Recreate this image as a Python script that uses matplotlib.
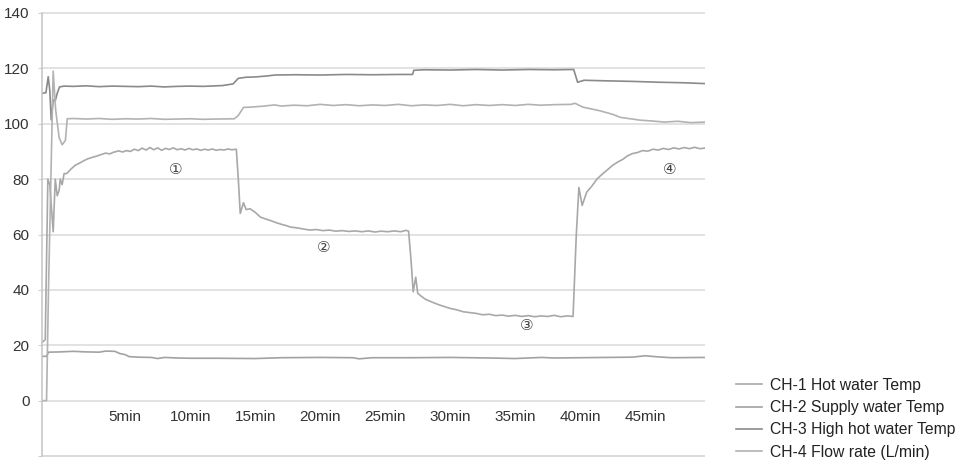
import matplotlib
matplotlib.use("Agg")
import matplotlib.pyplot as plt

# ---------------- data: (minute, value) ----------------
ch1_points = [
    (-1.4, 21), (-1.15, 22), (-0.95, 80), (-0.8, 78), (-0.54, 61), (-0.38, 80), (-0.23, 74),
    (-0.08, 76), (0.0, 80), (0.15, 78), (0.3, 82), (0.5, 82), (0.8, 83.5), (1.15, 85),
    (1.5, 85.8), (1.8, 86.6), (2.1, 87.3), (2.5, 87.9), (2.8, 88.3), (3.1, 88.8), (3.5, 89.4),
    (3.8, 89.1), (4.1, 89.7), (4.5, 90.2), (4.8, 89.8), (5.1, 90.3), (5.4, 90.0), (5.7, 90.8),
    (6.0, 90.3), (6.3, 91.2), (6.6, 90.5), (6.9, 91.4), (7.2, 90.6), (7.5, 91.3), (7.8, 90.4),
    (8.1, 91.1), (8.4, 90.7), (8.7, 91.3), (9.0, 90.6), (9.3, 91.0), (9.6, 90.5), (9.9, 91.1),
    (10.2, 90.6), (10.5, 90.9), (10.8, 90.4), (11.1, 90.8), (11.4, 90.5), (11.7, 90.9),
    (12.0, 90.4), (12.3, 90.7), (12.6, 90.5), (12.9, 90.9), (13.2, 90.6), (13.55, 90.8),
    (13.7, 80), (13.85, 67.6), (14.0, 70), (14.1, 71.5), (14.3, 69), (14.6, 69.3), (15.0, 68.0),
    (15.4, 66.3), (15.8, 65.6), (16.2, 65.0), (16.6, 64.3), (17.0, 63.7), (17.4, 63.2),
    (17.7, 62.7), (18.2, 62.4), (18.7, 62.0), (19.2, 61.6), (19.7, 61.8), (20.2, 61.4),
    (20.7, 61.6), (21.2, 61.2), (21.7, 61.4), (22.2, 61.1), (22.7, 61.3), (23.2, 61.0),
    (23.7, 61.3), (24.2, 60.9), (24.7, 61.2), (25.2, 61.0), (25.7, 61.3), (26.2, 61.0),
    (26.6, 61.5), (26.8, 61.2), (27.0, 50), (27.15, 39.3), (27.35, 44.6), (27.5, 38.8),
    (27.8, 37.6), (28.1, 36.6), (28.5, 35.8), (28.8, 35.2), (29.2, 34.5), (29.6, 33.9),
    (30.0, 33.3), (30.5, 32.8), (31.0, 32.1), (31.5, 31.8), (32.0, 31.5), (32.5, 31.0),
    (33.0, 31.2), (33.5, 30.7), (34.0, 30.9), (34.5, 30.5), (35.0, 30.8), (35.5, 30.4),
    (36.0, 30.7), (36.5, 30.3), (37.0, 30.6), (37.5, 30.4), (38.0, 30.8), (38.5, 30.3),
    (39.0, 30.6), (39.45, 30.4), (39.7, 60), (39.9, 77), (40.15, 70.5), (40.5, 75.3),
    (40.9, 77.5), (41.3, 80.1), (41.7, 81.8), (42.1, 83.4), (42.5, 85.0), (42.9, 86.2),
    (43.3, 87.2), (43.6, 88.3), (44.0, 89.2), (44.4, 89.6), (44.8, 90.3), (45.2, 90.1),
    (45.6, 90.8), (46.0, 90.5), (46.4, 91.1), (46.8, 90.7), (47.2, 91.3), (47.6, 90.9),
    (48.0, 91.4), (48.4, 91.0), (48.8, 91.5), (49.2, 91.0), (49.6, 91.2),
]

ch2_points = [
    (-1.4, 16), (-1.05, 16), (-0.9, 17.5), (0.0, 17.6), (1.0, 17.8), (2.0, 17.6), (3.0, 17.5),
    (3.5, 17.9), (4.2, 17.8), (4.6, 17.0), (5.0, 16.6), (5.3, 15.9), (6.0, 15.7), (7.0, 15.6),
    (7.5, 15.2), (8.0, 15.6), (9.0, 15.4), (10.0, 15.3), (12.0, 15.3), (15.0, 15.2),
    (17.0, 15.5), (20.0, 15.6), (22.5, 15.5), (23.0, 15.1), (24.0, 15.5), (27.0, 15.5),
    (30.0, 15.6), (33.0, 15.4), (35.0, 15.2), (37.0, 15.6), (38.0, 15.4), (40.0, 15.5),
    (42.0, 15.6), (44.0, 15.7), (45.0, 16.2), (46.0, 15.8), (47.0, 15.5), (49.6, 15.6),
]

ch3_points = [
    (-1.4, 111), (-1.1, 111.2), (-0.92, 117), (-0.8, 112), (-0.69, 101.4), (-0.54, 108.6),
    (-0.38, 108.3), (-0.23, 111), (-0.05, 113.3), (0.3, 113.6), (1.0, 113.5), (2.0, 113.7),
    (3.0, 113.4), (4.0, 113.6), (5.0, 113.5), (6.0, 113.4), (7.0, 113.6), (8.0, 113.3),
    (9.0, 113.5), (10.0, 113.6), (11.0, 113.5), (12.0, 113.7), (12.5, 113.8), (13.3, 114.4),
    (13.7, 116.4), (14.3, 116.8), (15.0, 116.9), (16.0, 117.3), (16.5, 117.6), (18.0, 117.7),
    (20.0, 117.6), (22.0, 117.8), (24.0, 117.7), (26.0, 117.8), (27.1, 117.8), (27.2, 119.3),
    (28.0, 119.5), (30.0, 119.4), (32.0, 119.6), (34.0, 119.4), (36.0, 119.6), (38.0, 119.5),
    (39.5, 119.6), (39.8, 115.0), (40.3, 115.7), (42.0, 115.5), (44.0, 115.3), (46.0, 115.0),
    (48.0, 114.8), (49.6, 114.5),
]

ch4_points = [
    (-1.4, 0), (-1.05, 0), (-0.9, 40), (-0.54, 119), (-0.35, 105), (-0.08, 95), (0.15, 92.4),
    (0.4, 94), (0.54, 101.8), (1.0, 101.9), (2.0, 101.7), (3.0, 101.9), (4.0, 101.6),
    (5.0, 101.8), (6.0, 101.7), (7.0, 101.9), (8.0, 101.6), (9.0, 101.7), (10.0, 101.8),
    (11.0, 101.6), (12.0, 101.7), (13.4, 101.8), (13.7, 103), (14.1, 105.9), (14.6, 106.0),
    (15.5, 106.3), (16.5, 106.8), (17.0, 106.4), (18.0, 106.7), (19.0, 106.5), (20.0, 107.0),
    (21.0, 106.6), (22.0, 106.9), (23.0, 106.5), (24.0, 106.8), (25.0, 106.6), (26.0, 107.0),
    (27.0, 106.5), (28.0, 106.8), (29.0, 106.6), (30.0, 107.0), (31.0, 106.5), (32.0, 106.9),
    (33.0, 106.6), (34.0, 106.9), (35.0, 106.6), (36.0, 107.0), (37.0, 106.7), (38.0, 106.9),
    (39.3, 107.0), (39.6, 107.4), (40.2, 106.0), (41.5, 104.7), (42.5, 103.4), (43.1, 102.3),
    (44.6, 101.3), (45.5, 101.0), (46.5, 100.6), (47.5, 100.9), (48.5, 100.4), (49.6, 100.6),
]

series_labels = ["CH-1 Hot water Temp", "CH-2 Supply water Temp",
                 "CH-3 High hot water Temp", "CH-4 Flow rate (L/min)"]
series_colors = ["#a8a8a8", "#a2a2a2", "#8a8a8a", "#b2b2b2"]

xtick_pos = [5, 10, 15, 20, 25, 30, 35, 40, 45]
xtick_labels = ["5min", "10min", "15min", "20min", "25min", "30min", "35min", "40min", "45min"]
yticks = [0, 20, 40, 60, 80, 100, 120, 140]
y_bottom = -20

markers = ["①", "②", "③", "④"]
marker_t = [8.9, 20.3, 35.9, 46.9]
marker_v = [83.5, 55.4, 27.3, 83.5]

# ---------------- figure ----------------
plt.rcParams['font.family'] = ['Liberation Sans', 'DejaVu Sans', 'Noto Sans CJK JP']
fig = plt.figure(figsize=(9.68, 4.67), dpi=100)
ppu = (456 - 13) / 160.0
y_lo, y_hi = -21, 141
ax = fig.add_axes([42/968, (467 - (456 + ppu)) / 467, (705-42)/968, (162 * ppu) / 467])

for pts, lab, c in zip([ch1_points, ch2_points, ch3_points, ch4_points],
                       series_labels, series_colors):
    t = [p[0] for p in pts]
    v = [p[1] for p in pts]
    ax.plot(t, v, color=c, lw=1.2, label=lab, solid_joinstyle='round')

grid_color = "#dadada"
ax.set_xlim(-1.4, 49.6)
ax.set_ylim(y_lo, y_hi)
ax.set_yticks(yticks + [y_bottom])
ax.set_yticklabels([str(y) for y in yticks] + [""])
ax.yaxis.grid(True, color=grid_color, lw=1.1)
ax.axhline(y_bottom, color=grid_color, lw=1.1, zorder=0.5)
ax.set_axisbelow(True)
ax.tick_params(axis='y', length=3, color="#cfcfcf", labelsize=11, labelcolor="#333333", pad=6)

ax.set_xticks(xtick_pos)
ax.set_xticklabels(xtick_labels)
ax.spines['bottom'].set_position(('data', 0))
ax.spines['bottom'].set_visible(False)
ax.tick_params(axis='x', length=0, labelsize=11, labelcolor="#333333", pad=7)
for s in ['top', 'right']:
    ax.spines[s].set_visible(False)
ax.spines['left'].set_color("#c4c4c4")
ax.spines['left'].set_linewidth(1.1)
ax.spines['left'].set_bounds(y_bottom, 140)

for m, t, v in zip(markers, marker_t, marker_v):
    ax.text(t, v, m, ha='center', va='center', fontsize=11, color="#444444",
            family=['DejaVu Sans', 'Noto Sans CJK JP'])

fig.legend(loc='upper left', bbox_to_anchor=(728/968, 1 - 370/467), frameon=False,
           fontsize=11.3, handlelength=1.65, handletextpad=0.5, labelspacing=0.46,
           borderpad=0, labelcolor="#222222")

fig.savefig("out.png", dpi=100)
